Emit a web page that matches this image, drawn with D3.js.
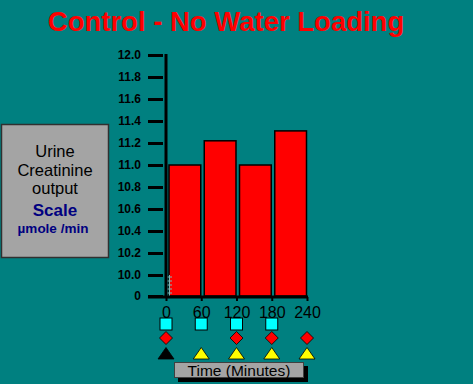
<!DOCTYPE html>
<html>
<head>
<meta charset="utf-8">
<script src="https://cdn.jsdelivr.net/npm/d3@7"></script>
<style>
  html, body { margin: 0; padding: 0; background: #008080; }
  svg { display: block; font-family: "Liberation Sans", Arial, sans-serif; }
</style>
</head>
<body>
<div id="chart"></div>
<script>
// chart data
const timeTicks = [0, 60, 120, 180, 240];
const barStarts = [0, 60, 120, 180];
const barValues = [11.0, 11.22, 11.0, 11.31];
const yTicks = [0, 10.0, 10.2, 10.4, 10.6, 10.8, 11.0, 11.2, 11.4, 11.6, 11.8, 12.0];
const squareTimes = [0, 60, 120, 180];
const diamondTimes = [0, 120, 180, 240];
const triangleTimes = [0, 60, 120, 180, 240];
const triangleColors = ['black', 'yellow', 'yellow', 'yellow', 'yellow'];
const boxLines = ['Urine', 'Creatinine', 'output'];

const width = 473, height = 384;
const teal = '#008080';

const svg = d3.select('#chart').append('svg')
    .attr('width', width)
    .attr('height', height);

svg.append('rect').attr('width', width).attr('height', height).attr('fill', teal);

// title
svg.append('text')
    .attr('x', 226).attr('y', 31)
    .attr('text-anchor', 'middle')
    .attr('fill', 'red')
    .attr('font-size', 27.5)
    .attr('font-weight', 'bold')
    .text('Control - No Water Loading');

// scales (broken y axis: 0 then 10.0 .. 12.0)
const xScale = d3.scaleLinear().domain([0, 240]).range([166, 307]);
const yScale = d3.scaleLinear().domain([0, 10, 12]).range([296, 275, 55]);

// bars
svg.selectAll('.bar').data(barStarts).enter()
    .append('rect')
    .attr('class', 'bar')
    .attr('x', d => xScale(d) + 3)
    .attr('y', (d, i) => yScale(barValues[i]))
    .attr('width', d => xScale(d + 60) - xScale(d) - 3.5)
    .attr('height', (d, i) => yScale(0) - yScale(barValues[i]))
    .attr('fill', 'red')
    .attr('stroke', 'black')
    .attr('stroke-width', 1.5);

// axis break marks
const breakG = svg.append('g').attr('stroke', '#7fb8b8').attr('stroke-width', 1);
[277, 281, 285, 289, 293].forEach(y => {
    breakG.append('line').attr('x1', 166).attr('x2', 172).attr('y1', y).attr('y2', y);
});
breakG.append('line').attr('x1', 169.5).attr('x2', 169.5).attr('y1', 275).attr('y2', 296);

// y axis
const yAxis = d3.axisLeft(yScale)
    .tickValues(yTicks)
    .tickSize(15)
    .tickSizeOuter(0)
    .tickPadding(7)
    .tickFormat(d => d === 0 ? '0' : d3.format('.1f')(d));
const yG = svg.append('g').attr('transform', 'translate(163,0)').call(yAxis);
yG.select('.domain').remove();
yG.selectAll('line').attr('stroke', 'black').attr('stroke-width', 3);
yG.selectAll('text')
    .attr('fill', 'black')
    .attr('font-size', 12)
    .attr('font-weight', 'bold')
    .attr('font-family', '"Liberation Sans", Arial, sans-serif');

svg.append('line')
    .attr('x1', 166).attr('x2', 166)
    .attr('y1', 54).attr('y2', 298)
    .attr('stroke', 'black').attr('stroke-width', 3);

// x axis
const xAxis = d3.axisBottom(xScale)
    .tickValues(timeTicks)
    .tickSize(4)
    .tickSizeOuter(0)
    .tickPadding(6)
    .tickFormat(d3.format('d'));
const xG = svg.append('g').attr('transform', 'translate(0,297)').call(xAxis);
xG.select('.domain').remove();
xG.selectAll('line').attr('stroke', 'black').attr('stroke-width', 2);
xG.selectAll('text')
    .attr('fill', 'black')
    .attr('font-size', 16)
    .attr('font-family', '"Liberation Sans", Arial, sans-serif');
svg.append('line')
    .attr('x1', 148).attr('x2', 308)
    .attr('y1', 297).attr('y2', 297)
    .attr('stroke', 'black').attr('stroke-width', 3);

// markers
svg.selectAll('.sq').data(squareTimes).enter()
    .append('rect')
    .attr('x', d => xScale(d) - 6)
    .attr('y', 318)
    .attr('width', 12).attr('height', 12)
    .attr('fill', 'cyan')
    .attr('stroke', 'black').attr('stroke-width', 1);

svg.selectAll('.dia').data(diamondTimes).enter()
    .append('path')
    .attr('d', d => {
        const cx = xScale(d), cy = 338;
        return `M${cx},${cy - 6.5}L${cx + 6.5},${cy}L${cx},${cy + 6.5}L${cx - 6.5},${cy}Z`;
    })
    .attr('fill', 'red')
    .attr('stroke', 'black').attr('stroke-width', 0.8);

svg.selectAll('.tri').data(triangleTimes).enter()
    .append('path')
    .attr('d', d => {
        const cx = xScale(d);
        return `M${cx},347.5L${cx + 8},359L${cx - 8},359Z`;
    })
    .attr('fill', (d, i) => triangleColors[i])
    .attr('stroke', 'black').attr('stroke-width', 0.8);

// x axis title box
svg.append('rect')
    .attr('x', 178).attr('y', 366).attr('width', 130).attr('height', 16)
    .attr('fill', 'black');
svg.append('rect')
    .attr('x', 174.5).attr('y', 362.5).attr('width', 129).attr('height', 15)
    .attr('fill', '#a4a4a4')
    .attr('stroke', '#404040').attr('stroke-width', 1);
svg.append('text')
    .attr('x', 239).attr('y', 376)
    .attr('text-anchor', 'middle')
    .attr('fill', 'black')
    .attr('font-size', 15.5)
    .text('Time (Minutes)');

// left label box
svg.append('rect')
    .attr('x', 1.5).attr('y', 124.5).attr('width', 107).attr('height', 133)
    .attr('fill', '#a4a4a4')
    .attr('stroke', '#303030').attr('stroke-width', 1.5);
svg.selectAll('.boxLine').data(boxLines).enter()
    .append('text')
    .attr('x', 55)
    .attr('y', (d, i) => 157 + i * 18.5)
    .attr('text-anchor', 'middle')
    .attr('fill', 'black')
    .attr('font-size', 16.5)
    .text(d => d);
svg.append('text')
    .attr('x', 55).attr('y', 216)
    .attr('text-anchor', 'middle')
    .attr('fill', '#000080')
    .attr('font-size', 17)
    .attr('font-weight', 'bold')
    .text('Scale');
svg.append('text')
    .attr('x', 53).attr('y', 233)
    .attr('text-anchor', 'middle')
    .attr('fill', '#000080')
    .attr('font-size', 13.5)
    .attr('font-weight', 'bold')
    .text('µmole /min');
</script>
</body>
</html>
